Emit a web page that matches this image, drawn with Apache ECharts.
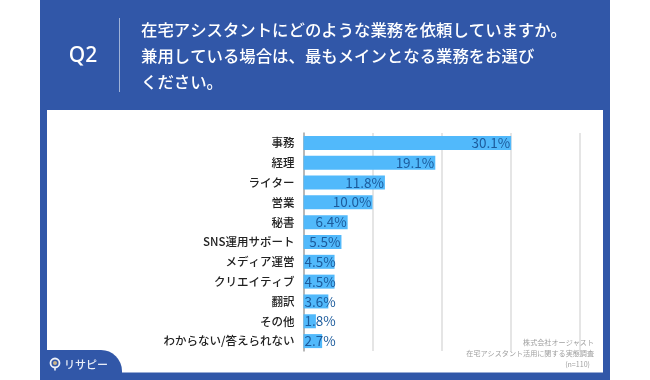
<!DOCTYPE html>
<html>
<head>
<meta charset="utf-8">
<style>
  html, body { margin: 0; padding: 0; background: #fff; }
  #chart { width: 650px; height: 380px; }
</style>
<script src="https://cdn.jsdelivr.net/npm/echarts@6/dist/echarts.min.js"></script>
</head>
<body>
<div id="chart"></div>
<script>
const categories = ['事務', '経理', 'ライター', '営業', '秘書', 'SNS運用サポート', 'メディア運営', 'クリエイティブ', '翻訳', 'その他', 'わからない/答えられない'];
const values = [30.1, 19.1, 11.8, 10.0, 6.4, 5.5, 4.5, 4.5, 3.6, 1.8, 2.7];
const questionLines = ['在宅アシスタントにどのような業務を依頼していますか。', '兼用している場合は、最もメインとなる業務をお選び', 'ください。'];
const sourceLines = ['株式会社オージャスト', '在宅アシスタント活用に関する実態調査', '(n=110)'];

const FONT = '"Noto Sans CJK JP", "Noto Sans", sans-serif';
const BLUE = '#3157a8';

const chart = echarts.init(document.getElementById('chart'), null, { renderer: 'canvas' });

// 背景パネルとヘッダー
const graphics = [
  { type: 'rect', z: -10, shape: { x: 40, y: 0, width: 570, height: 380 }, style: { fill: BLUE }, silent: true },
  { type: 'rect', z: -9, shape: { x: 47, y: 110, width: 556, height: 262.5 }, style: { fill: '#fff' }, silent: true },
  { type: 'rect', z: -8, shape: { x: 40, y: 350, width: 82, height: 30, r: [0, 21, 0, 0] }, style: { fill: BLUE }, silent: true },
  { type: 'rect', shape: { x: 119, y: 18, width: 1, height: 74 }, style: { fill: '#9fb2d8' }, silent: true },
  { type: 'text', x: 83, y: 56, style: { text: 'Q2', fill: '#fff', font: '500 21px "Noto Sans", sans-serif', textAlign: 'center', textVerticalAlign: 'middle' } },
  // ロゴ
  { type: 'circle', shape: { cx: 55, cy: 363, r: 4.5 }, style: { fill: 'none', stroke: '#eef2f9', lineWidth: 1.8 }, silent: true },
  { type: 'circle', shape: { cx: 55, cy: 363, r: 2 }, style: { fill: '#c9b48a' }, silent: true },
  { type: 'rect', shape: { x: 54.2, y: 367, width: 1.6, height: 3.5 }, style: { fill: '#eef2f9' }, silent: true },
  { type: 'text', x: 64, y: 365, style: { text: 'リサピー', fill: '#e8edf7', font: '500 11px ' + FONT, textAlign: 'left', textVerticalAlign: 'middle' } }
];
questionLines.forEach((line, i) => {
  graphics.push({ type: 'text', x: 141, y: 30 + i * 26, style: { text: line, fill: '#fff', font: '500 16.4px ' + FONT, textAlign: 'left', textVerticalAlign: 'middle' } });
});
sourceLines.forEach((line, i) => {
  graphics.push({ type: 'text', z: 10, x: i === 2 ? 590 : 594, y: 342 + i * 11, style: { text: line, fill: '#a0a0a0', font: '7.1px ' + FONT, textAlign: 'right', textVerticalAlign: 'middle' } });
});

const option = {
  animation: false,
  backgroundColor: '#fff',
  graphic: graphics,
  grid: { left: 303.5, top: 133, width: 276, height: 218, containLabel: false },
  xAxis: {
    type: 'value',
    min: 0,
    max: 40,
    interval: 10,
    axisLine: { show: false },
    axisTick: { show: false },
    axisLabel: { show: false },
    splitLine: { show: true, lineStyle: { color: '#dcdcdc', width: 1.5 } }
  },
  yAxis: {
    type: 'category',
    inverse: true,
    data: categories,
    axisLine: { show: true, lineStyle: { color: '#a9a9a9', width: 1.5 } },
    axisTick: { show: false },
    axisLabel: { color: '#222', fontFamily: FONT, fontSize: 11.5, fontWeight: 500, margin: 9 }
  },
  series: [{
    type: 'bar',
    barWidth: 14,
    itemStyle: { color: '#51b9fb' },
    // 棒が短いものはラベルを左寄せ
    data: values.map(v => ({
      value: v,
      label: v <= 4.5 ? { position: 'insideLeft', distance: 1 } : { position: 'insideRight', distance: 1 }
    })),
    label: {
      show: true,
      color: '#1c5b9c',
      fontFamily: FONT,
      fontSize: 13.5,
      formatter: p => p.value.toFixed(1) + '%'
    }
  }]
};
chart.setOption(option);
</script>
</body>
</html>
